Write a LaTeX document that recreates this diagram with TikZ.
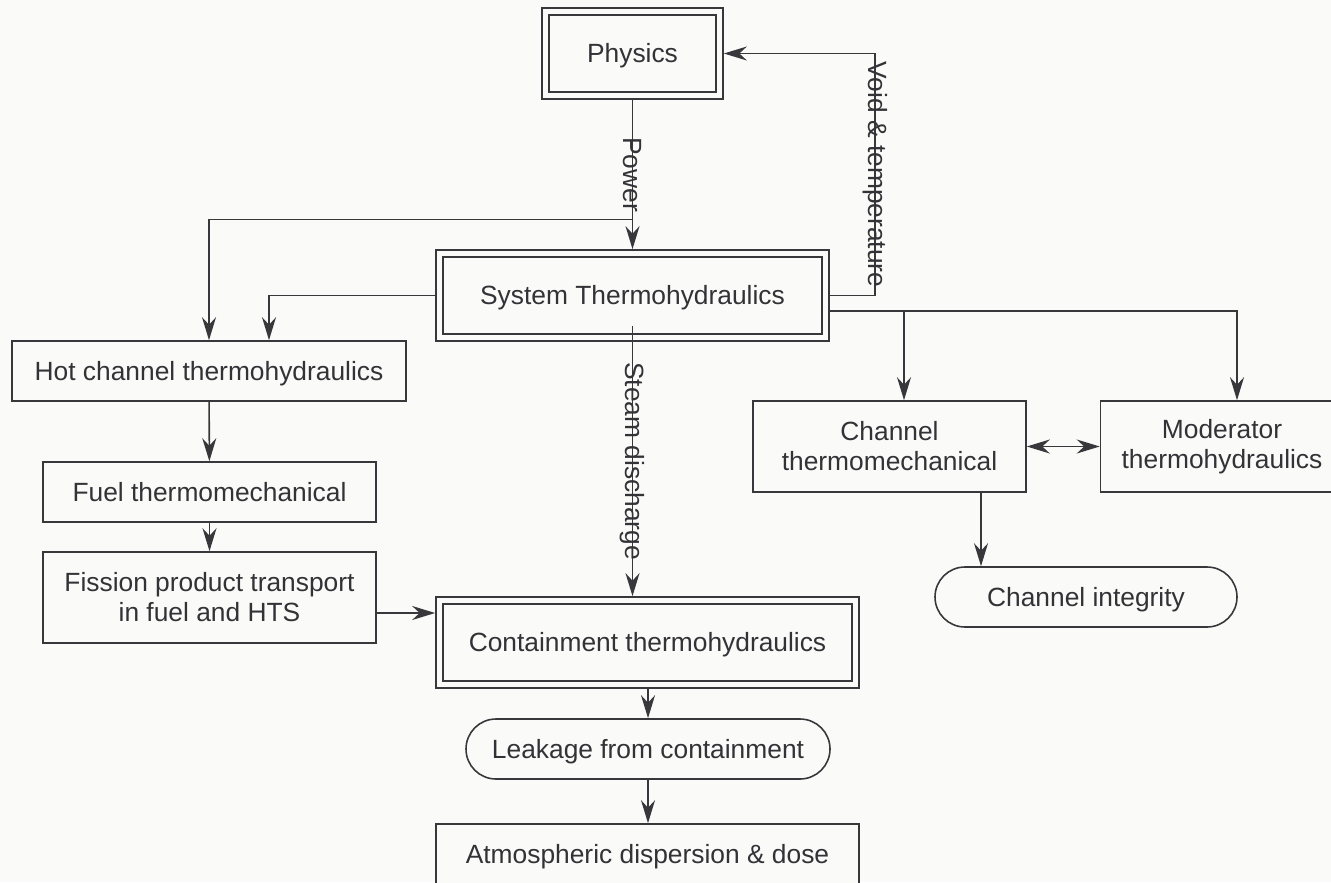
\documentclass[tikz,border=0pt]{standalone}
\usepackage{fontspec}
\setmainfont{Liberation Sans}
\usetikzlibrary{arrows.meta,positioning,shapes.misc,calc}
\definecolor{linegray}{RGB}{55,55,60}
\definecolor{textgray}{RGB}{50,50,55}
\definecolor{paper}{RGB}{250,250,248}
\tikzset{
  box/.style={draw=linegray,line width=0.9pt,fill=paper,text=textgray,
              align=center,inner sep=0pt,font=\fontsize{15}{17}\selectfont},
  oneline/.style={text height=0.48cm,text depth=0.11cm},
  dbox/.style={box,oneline,double=paper,double distance=0.11cm,outer sep=0.087cm},
  pill/.style={box,oneline,rounded rectangle},
  arr/.style={draw=linegray,line width=0.9pt,-{Stealth[length=4.6mm,width=2.8mm,inset=1.5mm]}},
  twoway/.style={draw=linegray,line width=0.9pt,
                 {Stealth[length=4.6mm,width=2.8mm,inset=1.5mm]}-{Stealth[length=4.6mm,width=2.8mm,inset=1.5mm]}},
  lbl/.style={rotate=-90,inner sep=0pt,text=textgray,font=\fontsize{15}{17}\selectfont}
}
\begin{document}
\begin{tikzpicture}
\fill[paper] (0,0) rectangle (26.62,-17.64);
\useasboundingbox (0,0) rectangle (26.62,-17.64);
%% Main column
\node[dbox,minimum width=3.48cm,minimum height=1.68cm] (phys) at (12.65,-1.07) {Physics};
\node[dbox,minimum width=7.72cm,minimum height=1.68cm] (sys) at (12.65,-5.91) {System Thermohydraulics};
\node[dbox,minimum width=8.32cm,minimum height=1.68cm] (cont) at (12.95,-12.85) {Containment thermohydraulics};
\node[pill,minimum width=7.28cm,minimum height=1.2cm] (leak) at (12.96,-14.98) {Leakage from containment};
\node[box,oneline,minimum width=8.46cm,minimum height=1.2cm] (atm) at (12.95,-17.08) {Atmospheric dispersion \& dose};
%% Left column
\node[box,oneline,minimum width=7.88cm,minimum height=1.2cm] (hot) at (4.18,-7.42) {Hot channel thermohydraulics};
\node[box,oneline,minimum width=6.66cm,minimum height=1.2cm] (fuel) at (4.19,-9.84) {Fuel thermomechanical};
\node[box,minimum width=6.66cm,minimum height=1.82cm] (fiss) at (4.19,-11.95) {Fission product transport\\in fuel and HTS};
%% Right side
\node[box,minimum width=5.46cm,minimum height=1.82cm] (chan) at (17.79,-8.93) {Channel\\thermomechanical};
\node[box,minimum width=4.86cm,minimum height=1.82cm] (mod) at (24.44,-8.93) {Moderator\\thermohydraulics};
\node[pill,minimum width=6.04cm,minimum height=1.2cm] (chint) at (21.72,-11.94) {Channel integrity};
%% Helper points
\coordinate (pwsplit) at ($(phys.south)!0.8!(sys.north)$);
\coordinate (sysr) at ([yshift=-0.31cm]sys.east);
\coordinate (chtop) at ([xshift=0.29cm]chan.north);
\coordinate (chbot) at ([xshift=1.83cm]chan.south);
\coordinate (stm) at ([yshift=-0.61cm]sys.center);
\coordinate (fso) at ([yshift=-0.31cm]fiss.east);
%% Connectors
\draw[arr] (phys) -- node[lbl]{Power} (sys);
\draw[arr] (pwsplit) -| (hot.north);
\draw[arr] (sys.west) -| ([xshift=1.2cm]hot.north);
\draw[arr] (sys.east) -- ++(0.9,0) -- node[lbl]{Void \& temperature} ++(0,4.84) -- (phys.east);
\draw[arr] (sysr) -| ([xshift=0.3cm]mod.north);
\draw[arr] (chtop |- sysr) -- (chtop);
\draw[twoway] (chan) -- (mod);
\draw[arr] (chbot) -- (chbot |- chint.north);
\draw[arr] (stm) -- node[lbl]{Steam discharge} (stm |- cont.north);
\draw[arr] (hot) -- (fuel);
\draw[arr] (fuel) -- (fiss);
\draw[arr] (fso) -- (fso -| cont.west);
\draw[arr] (cont.south -| leak.north) -- (leak);
\draw[arr] (leak) -- (leak.south |- atm.north);
\end{tikzpicture}
\end{document}
